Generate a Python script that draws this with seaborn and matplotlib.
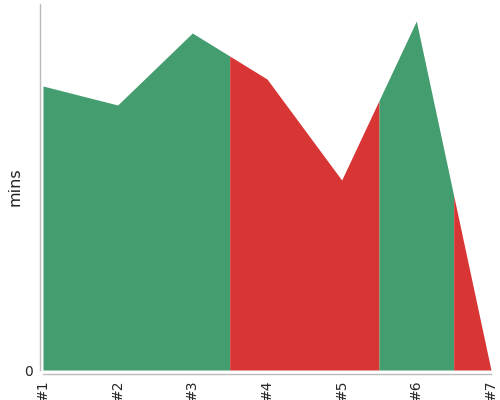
import numpy as np
import matplotlib
matplotlib.use("Agg")
import matplotlib.pyplot as plt
import seaborn as sns

# ── Data ─────────────────────────────────────────────
labels = ["#1", "#2", "#3", "#4", "#5", "#6", "#7"]
mins   = [28.4, 26.5, 33.7, 29.1, 19.0, 34.9, 0.0]
status = ["ok", "ok", "ok", "bad", "bad", "ok", "bad"]

COLORS = {"ok": "#449D6E", "bad": "#D83535"}
Y_MAX  = 36.6

sns.set_style("white")
plt.rcParams['font.family'] = ['DejaVu Sans']

fig = plt.figure(figsize=(5, 4), dpi=100)
ax = fig.add_axes([0.086, 0.075, 0.896, 0.915])

x = np.arange(len(labels))
y = np.array(mins)
last = len(labels) - 1

# group consecutive points with the same status into one band,
# each band reaching half way to the neighbouring points
runs = []
start = 0
for i in range(1, len(status) + 1):
    if i == len(status) or status[i] != status[start]:
        runs.append((start, i - 1, status[start]))
        start = i

for a, b, st in runs:
    lo = max(a - 0.5, 0)
    hi = min(b + 0.5, last)
    xs = np.unique(np.concatenate([[lo], x[a:b + 1], [hi]]).astype(float))
    ys = np.interp(xs, x, y)
    ax.fill_between(xs, 0, ys, color=COLORS[st], linewidth=0)

ax.set_xlim(0, last)
ax.set_ylim(0, Y_MAX)
ax.set_xticks(x)
ax.set_xticklabels(labels, fontsize=7, color="black")
ax.set_yticks([0])
ax.set_yticklabels(["0"], fontsize=9, color="#444444")
ax.set_ylabel("mins", fontsize=11.5, color="#222222", labelpad=1)

sns.despine(ax=ax)
for side in ("left", "bottom"):
    ax.spines[side].set_color("#bbbbbb")
    ax.spines[side].set_linewidth(1)
ax.spines["left"].set_position(("outward", 2.2))
ax.spines["bottom"].set_position(("outward", 2.9))
ax.tick_params(axis="both", length=3, width=1, color="#bbbbbb", pad=2)
ax.tick_params(axis="x", labelrotation=90, pad=1)

fig.savefig("out.png", dpi=100)
